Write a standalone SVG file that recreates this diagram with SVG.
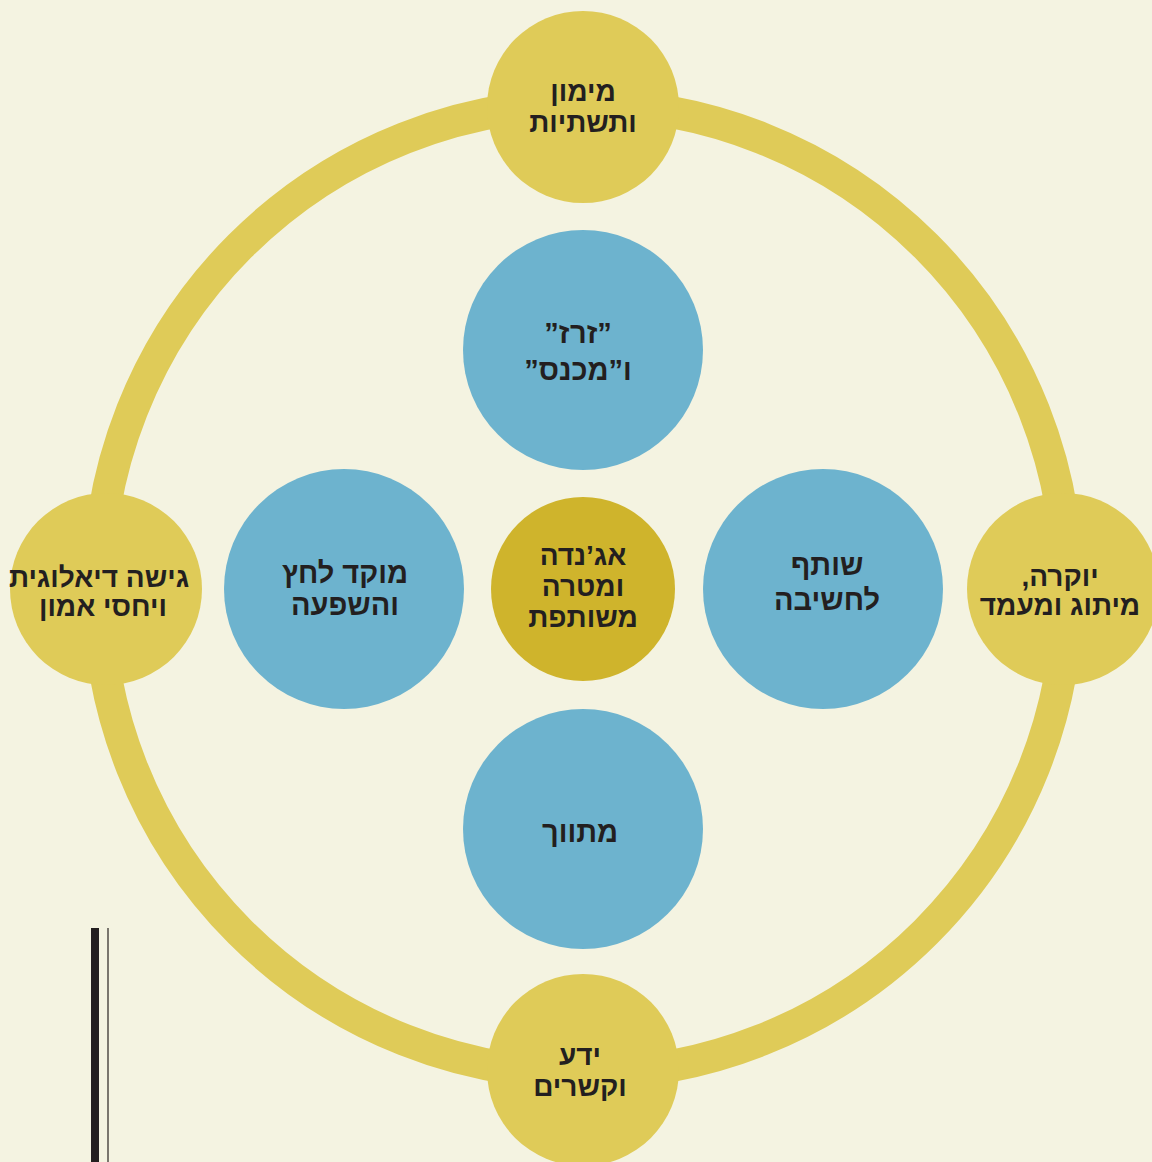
<svg xmlns="http://www.w3.org/2000/svg" width="1152" height="1162" viewBox="0 0 1152 1162">
<style>
.bg{fill:#F4F3E1}
.ring{fill:none;stroke:#DFCB58;stroke-width:32}
.outer{fill:#DFCB58}
.blue{fill:#6DB3CE}
.core{fill:#CFB42C}
text{font-family:"Liberation Sans","DejaVu Sans",sans-serif;font-weight:bold;font-size:28px;fill:#231F20;text-anchor:middle;direction:rtl;unicode-bidi:embed}
.bt{font-size:29px}
</style>
<rect class="bg" x="0" y="0" width="1152" height="1162"/>
<g id="connectors">
<circle class="ring" cx="583" cy="589" r="485"/>
</g>
<g id="node-top">
<circle class="outer" cx="583" cy="107" r="96"/>
<text x="583" y="101">מימון</text>
<text x="583" y="132">ותשתיות</text>
</g>
<g id="node-left">
<circle class="outer" cx="106" cy="589" r="96"/>
<text x="99" y="587">גישה דיאלוגית</text>
<text x="103" y="616">ויחסי אמון</text>
</g>
<g id="node-right">
<circle class="outer" cx="1063" cy="589" r="96"/>
<text x="1060" y="586">יוקרה,</text>
<text x="1060" y="615">מיתוג ומעמד</text>
</g>
<g id="node-bottom">
<circle class="outer" cx="583" cy="1070" r="96"/>
<text x="580" y="1065">ידע</text>
<text x="580" y="1096">וקשרים</text>
</g>
<g id="blue-top">
<circle class="blue" cx="583" cy="350" r="120"/>
<text class="bt" x="578" y="343">”זרז”</text>
<text class="bt" x="578" y="380">ו”מכנס”</text>
</g>
<g id="blue-left">
<circle class="blue" cx="344" cy="589" r="120"/>
<text class="bt" x="345" y="583">מוקד לחץ</text>
<text class="bt" x="345" y="615">והשפעה</text>
</g>
<g id="blue-right">
<circle class="blue" cx="823" cy="589" r="120"/>
<text class="bt" x="827" y="575">שותף</text>
<text class="bt" x="827" y="610">לחשיבה</text>
</g>
<g id="blue-bottom">
<circle class="blue" cx="583" cy="829" r="120"/>
<text class="bt" x="580" y="842">מתווך</text>
</g>
<g id="center">
<circle class="core" cx="583" cy="589" r="92"/>
<text x="583" y="565">אג’נדה</text>
<text x="583" y="596">ומטרה</text>
<text x="583" y="627">משותפת</text>
</g>
<g id="bars">
<rect x="91" y="928" width="8" height="234" fill="#231F20"/>
<rect x="107" y="928" width="2" height="234" fill="#7A766E"/>
</g>
</svg>
